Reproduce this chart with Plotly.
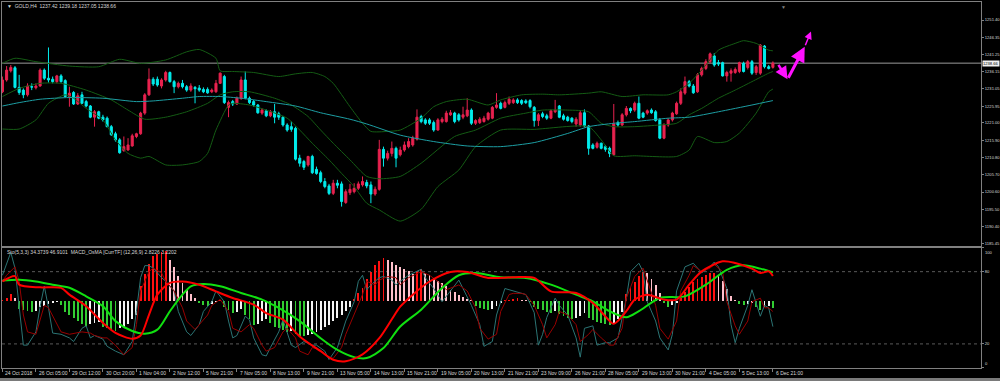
import plotly.graph_objects as go

# ---------------- data ----------------
time_labels = ["24 Oct 2018", "26 Oct 05:00", "29 Oct 12:00", "30 Oct 20:00", "1 Nov 04:00",
               "2 Nov 12:00", "5 Nov 21:00", "7 Nov 05:00", "8 Nov 13:00", "9 Nov 21:00",
               "13 Nov 05:00", "14 Nov 13:00", "15 Nov 21:00", "19 Nov 05:00", "20 Nov 13:00",
               "21 Nov 21:00", "23 Nov 09:00", "26 Nov 21:00", "28 Nov 05:00", "29 Nov 13:00",
               "30 Nov 21:00", "4 Dec 05:00", "5 Dec 13:00", "6 Dec 21:00"]
label_bar = [0, 8, 16, 24, 32, 40, 48, 56, 64, 72, 80, 88, 96, 104, 112, 120,
             128, 136, 144, 152, 160, 168, 176, 184]

open_ = [1230.2,1233.7,1236.4,1237.3,1231.5,1230.7,1229.3,1231.7,1231.4,1231.9,
         1236.6,1234.2,1233.9,1233.2,1234.9,1233.5,1228.8,1230.0,1226.6,1229.3,
         1227.3,1226.0,1222.7,1224.3,1222.7,1222.4,1219.9,1217.8,1216.0,1212.8,
         1213.0,1214.2,1217.0,1217.8,1223.9,1229.3,1233.9,1233.9,1231.9,1233.7,
         1235.9,1233.2,1231.7,1232.7,1231.7,1230.7,1231.5,1231.3,1230.9,1230.9,
         1230.2,1230.2,1232.7,1234.7,1225.6,1227.3,1226.6,1228.3,1233.7,1228.3,
         1227.3,1226.3,1223.9,1224.6,1223.1,1224.3,1223.7,1222.7,1220.4,1219.9,
         1219.4,1210.6,1209.6,1208.6,1211.1,1207.3,1206.3,1203.7,1202.4,1200.2,
         1203.2,1203.0,1197.5,1200.4,1200.7,1201.7,1202.7,1203.4,1202.7,1200.0,
         1201.4,1213.2,1210.6,1212.0,1213.5,1211.6,1213.0,1214.0,1214.5,1216.2,
         1222.9,1221.9,1221.9,1221.1,1218.9,1221.4,1221.4,1223.4,1223.9,1223.4,
         1222.7,1223.1,1224.8,1220.9,1221.1,1221.4,1222.1,1222.4,1225.6,1226.8,
         1225.6,1226.8,1227.0,1227.8,1227.6,1227.5,1227.6,1225.6,1221.7,1223.7,
         1223.1,1222.4,1224.3,1226.0,1223.1,1222.7,1222.4,1220.7,1220.4,1224.0,
         1220.1,1214.5,1213.8,1215.0,1214.0,1213.5,1211.6,1221.1,1220.4,1223.4,
         1225.3,1224.8,1226.8,1223.9,1223.9,1224.8,1224.3,1221.9,1216.5,1220.4,
         1221.9,1223.7,1226.8,1229.8,1233.2,1231.9,1230.2,1235.2,1237.1,1239.1,
         1240.8,1238.8,1238.8,1234.9,1235.7,1235.9,1236.2,1238.6,1237.4,1239.1,
         1235.9,1235.7,1243.7,1237.6,1237.42]
high_ = [1234.7,1237.8,1238.1,1237.8,1235.2,1231.2,1232.7,1232.7,1232.7,1237.1,
         1237.1,1243.3,1234.7,1235.2,1235.4,1233.9,1231.7,1230.4,1229.8,1230.2,
         1227.8,1226.3,1224.8,1224.6,1223.4,1222.9,1220.4,1218.4,1216.5,1217.0,
         1216.5,1217.8,1218.1,1224.3,1229.8,1237.1,1234.5,1234.7,1234.2,1236.4,
         1236.2,1233.7,1233.2,1233.7,1232.2,1232.7,1231.9,1232.2,1231.5,1231.5,
         1231.2,1233.7,1235.9,1235.2,1227.6,1227.8,1228.8,1234.7,1236.2,1228.8,
         1227.8,1226.6,1225.3,1225.0,1224.8,1226.6,1224.3,1223.1,1220.9,1221.4,
         1219.9,1211.6,1210.1,1211.3,1211.6,1208.1,1206.9,1204.7,1203.0,1204.2,
         1204.2,1203.7,1201.4,1203.0,1203.2,1203.7,1205.2,1204.2,1203.7,1202.2,
         1216.0,1214.0,1212.8,1215.5,1214.0,1214.0,1215.5,1216.5,1217.2,1225.0,
         1223.4,1222.4,1222.4,1221.7,1222.4,1222.7,1224.6,1224.8,1224.3,1223.9,
         1225.8,1228.3,1225.3,1222.1,1222.7,1223.1,1224.3,1226.0,1229.8,1227.3,
         1227.6,1228.8,1228.3,1228.3,1228.0,1228.0,1228.0,1226.0,1223.9,1224.3,
         1223.7,1225.0,1227.8,1226.3,1223.7,1223.1,1222.7,1222.7,1224.8,1225.0,
         1220.4,1215.0,1215.5,1215.2,1214.5,1214.0,1226.6,1221.7,1223.9,1226.0,
         1225.6,1227.3,1228.8,1224.3,1225.0,1225.3,1224.8,1222.4,1220.9,1222.4,
         1224.3,1227.3,1231.2,1234.7,1233.7,1232.5,1235.7,1237.6,1239.8,1241.8,
         1241.6,1239.6,1239.1,1236.4,1237.1,1237.4,1239.1,1239.1,1239.6,1239.6,
         1238.1,1244.3,1244.0,1238.1,1239.18]
low_ = [1229.8,1233.2,1235.9,1231.2,1229.3,1228.3,1228.8,1230.7,1230.9,1231.7,
        1233.7,1232.9,1232.7,1232.7,1232.9,1228.6,1225.8,1226.3,1226.3,1226.6,
        1225.6,1222.4,1219.9,1222.1,1221.4,1219.7,1217.2,1215.5,1211.9,1212.5,
        1212.8,1214.0,1216.5,1217.5,1223.4,1229.0,1231.9,1231.7,1231.2,1233.2,
        1232.9,1229.8,1231.2,1231.2,1230.2,1230.2,1226.8,1230.2,1229.8,1229.6,
        1229.8,1229.9,1232.5,1226.6,1222.7,1226.0,1226.3,1227.8,1228.0,1226.6,
        1225.8,1223.7,1223.4,1222.7,1222.7,1220.9,1221.9,1219.9,1218.4,1218.4,
        1209.9,1208.1,1207.1,1208.1,1205.9,1205.7,1203.2,1201.7,1199.7,1199.7,
        1201.7,1196.3,1197.1,1199.7,1200.2,1201.2,1202.2,1201.7,1197.3,1199.5,
        1201.0,1208.1,1209.9,1211.1,1207.9,1211.1,1212.5,1213.5,1214.0,1215.8,
        1220.9,1220.4,1220.4,1218.4,1218.7,1220.9,1221.1,1223.1,1220.9,1221.4,
        1222.1,1222.7,1220.4,1220.4,1220.7,1221.1,1221.7,1222.1,1225.2,1225.0,
        1225.3,1226.3,1226.6,1226.6,1226.3,1226.6,1225.3,1219.9,1220.1,1222.4,
        1221.9,1222.1,1223.9,1222.4,1221.7,1221.4,1220.9,1219.9,1219.9,1219.7,
        1211.6,1213.2,1213.4,1213.2,1212.5,1210.9,1211.3,1219.9,1220.1,1222.9,
        1223.9,1224.3,1222.1,1222.4,1223.4,1223.7,1221.4,1216.2,1216.2,1219.9,
        1221.4,1223.4,1226.3,1229.3,1231.5,1229.6,1229.9,1234.7,1236.6,1238.6,
        1237.6,1237.8,1234.7,1233.2,1233.2,1235.5,1235.7,1235.9,1236.8,1235.2,
        1235.2,1235.2,1237.1,1236.8,1237.05]
close_ = [1233.7,1236.6,1237.4,1231.5,1230.0,1229.3,1231.9,1231.6,1231.9,1236.6,
          1234.2,1233.7,1233.2,1234.9,1233.2,1228.8,1229.8,1226.6,1229.0,1226.8,
          1226.0,1222.7,1224.3,1222.4,1221.9,1219.9,1217.5,1216.0,1212.2,1214.0,
          1214.5,1217.2,1217.8,1223.9,1229.3,1233.9,1232.5,1232.2,1233.7,1235.9,
          1233.2,1231.7,1232.7,1231.7,1230.7,1231.9,1231.1,1230.7,1230.2,1229.9,
          1230.7,1232.7,1235.7,1227.0,1227.0,1226.6,1228.3,1233.7,1228.3,1227.0,
          1226.3,1224.0,1224.8,1223.1,1224.3,1222.7,1222.7,1220.4,1218.9,1219.1,
          1210.3,1209.1,1207.9,1211.1,1206.3,1206.1,1203.7,1202.2,1200.2,1203.2,
          1202.6,1197.8,1200.7,1201.4,1201.7,1203.0,1203.7,1202.4,1200.0,1201.4,
          1213.2,1210.6,1212.0,1213.5,1210.6,1213.0,1214.5,1215.5,1216.5,1222.7,
          1221.4,1220.9,1220.9,1218.9,1221.9,1222.1,1223.9,1224.0,1221.4,1221.9,
          1223.4,1224.8,1220.9,1221.7,1222.1,1222.4,1223.9,1225.6,1226.3,1225.3,
          1227.0,1228.0,1227.8,1227.0,1226.8,1227.0,1225.8,1221.7,1223.4,1222.9,
          1222.4,1224.6,1224.8,1222.7,1222.1,1221.7,1221.4,1222.1,1224.0,1220.1,
          1213.5,1213.5,1215.0,1213.5,1213.2,1212.0,1220.7,1220.4,1223.4,1225.3,
          1224.6,1226.8,1222.4,1222.7,1224.6,1224.0,1221.7,1216.5,1220.4,1221.9,
          1223.9,1226.8,1230.2,1233.2,1231.9,1229.9,1235.2,1237.1,1239.1,1241.4,
          1238.1,1238.4,1234.9,1235.9,1236.4,1236.8,1238.8,1236.2,1239.1,1235.7,
          1237.6,1244.0,1237.6,1237.1,1238.66]

# Bollinger bands (20,2)
bb_up_bar = [0,3,8,16,23,28,33,39,44,47,51,52,55,60,66,70,74,77,79,83,86,88,92,95,100,103,106,111,116,119,
             124,129,133,140,143,148,153,159,161,164,167,171,175,177,180,183,184]
bb_up = [1238.6,1240.1,1239.1,1237.8,1237.6,1239.8,1238.6,1239.6,1242.0,1242.7,1240.1,1236.4,1236.2,1235.9,
         1234.7,1235.5,1235.9,1234.7,1232.7,1225.8,1220.9,1218.5,1218.5,1218.9,1222.4,1225.8,1227.3,1228.0,
         1226.3,1227.8,1229.3,1229.5,1229.3,1229.8,1230.2,1228.8,1229.3,1229.3,1230.2,1232.7,1236.6,1242.5,
         1244.5,1245.3,1244.5,1242.5,1242.3]
bb_mid_bar = [0,4,9,14,20,26,30,34,39,44,49,52,55,59,65,69,73,76,79,83,87,90,95,100,108,113,119,125,129,135,
              140,143,146,151,157,161,164,167,171,175,179,183,184]
bb_mid = [1228.8,1231.2,1232.7,1232.7,1230.7,1227.8,1224.8,1222.1,1222.7,1224.3,1226.8,1229.3,1230.2,1230.2,
          1228.3,1226.3,1222.9,1218.9,1215.0,1210.1,1205.2,1204.5,1205.2,1209.1,1217.0,1218.9,1222.4,1223.9,
          1224.8,1224.8,1224.3,1220.9,1219.9,1219.9,1220.4,1220.9,1223.4,1225.3,1228.3,1230.7,1233.2,1235.7,
          1236.2]
bb_low_bar = [0,4,8,11,15,17,20,24,27,30,33,35,39,43,47,49,51,54,55,59,63,68,71,74,78,81,84,87,90,95,
              100,104,109,113,119,127,140,143,146,151,161,164,166,170,173,176,180,183,184]
bb_low = [1219.2,1219.2,1221.9,1226.8,1229.3,1228.3,1225.3,1221.9,1216.0,1212.0,1210.6,1211.1,1208.6,1208.6,
          1209.6,1212.0,1218.9,1226.3,1226.8,1226.3,1224.8,1222.4,1218.9,1215.0,1210.1,1206.1,1202.2,1197.3,
          1195.3,1192.0,1195.5,1202.2,1207.1,1214.0,1218.9,1219.1,1219.9,1216.0,1211.3,1211.3,1211.1,1213.0,
          1217.0,1215.2,1215.5,1218.0,1223.9,1230.2,1231.0]
# slow moving average (teal)
ma_bar = [0,4,9,16,24,32,36,43,47,52,57,63,70,76,83,87,95,103,111,119,127,135,140,146,151,159,164,171,179,184]
ma_val = [1226.0,1227.0,1228.0,1228.5,1228.3,1227.3,1227.5,1228.3,1228.8,1228.8,1228.3,1227.3,1226.0,1224.0,
          1222.1,1220.7,1217.4,1215.5,1214.2,1214.0,1215.2,1217.9,1219.9,1220.9,1221.4,1222.4,1222.7,1224.3,
          1226.3,1227.6]

# Stochastic (5,3,3)
sto_main_bar = [0,2,3,4,5,6,8,9,10,11,12,14,16,17,19,20,21,22,24,25,27,29,31,32,33,34,35,36,38,39,41,42,44,45,
                47,48,50,51,53,54,55,56,58,59,60,62,63,64,66,67,68,69,70,72,74,75,77,78,80,81,82,84,85,86,87,
                88,90,91,93,94,95,97,100,101,103,105,107,109,110,112,114,115,117,118,120,121,122,124,125,127,
                128,129,130,132,133,135,137,138,139,141,142,144,145,147,149,150,152,153,154,156,157,159,160,
                161,163,165,166,167,169,170,171,173,174,175,176,178,179,180,181,182,183,184]
sto_main = [77,96,83,52,19,19,30,51,68,50,29,28,25,22,33,35,25,27,24,18,14,11,22,47,75,85,85,83,75,72,64,47,30,
            27,36,47,55,64,55,39,25,27,43,40,25,11,10,17,30,40,30,19,17,22,19,19,14,7,17,28,39,55,72,77,65,69,
            75,76,73,69,72,77,82,75,66,55,64,73,66,52,36,18,22,44,66,65,64,62,61,46,19,28,42,58,52,44,25,9,33,
            35,19,21,21,25,58,80,87,80,55,39,25,15,28,64,84,87,83,79,84,88,84,66,36,21,33,52,65,54,43,52,50,
            34.37]
sto_sig_bar = [0,1,3,4,5,6,8,9,10,11,13,14,16,18,19,21,22,24,25,27,29,31,32,33,35,36,38,39,41,43,44,46,47,49,
               50,52,54,55,57,59,60,62,63,65,67,68,70,71,73,74,76,78,79,81,82,84,86,87,89,90,92,94,95,97,100,
               102,104,106,109,111,113,114,116,118,119,121,122,124,125,127,129,130,132,133,135,137,138,140,
               141,143,145,146,148,149,151,153,154,156,157,159,161,162,164,165,167,169,170,172,173,175,176,
               178,179,181,182,183,184]
sto_sig = [72,77,84,72,44,30,28,39,52,50,37,30,28,29,30,29,27,25,25,19,11,17,36,64,80,83,79,72,64,50,39,32,36,44,
           52,57,47,33,30,36,33,19,14,17,30,33,25,14,11,17,15,9,8,17,28,44,61,72,69,73,76,75,69,75,80,77,72,65,
           69,64,50,33,24,28,47,61,62,62,61,52,36,25,36,47,44,36,22,28,32,25,19,19,33,58,76,83,72,52,33,24,39,
           64,77,85,80,83,86,80,55,35,28,39,55,58,50,50,46.91]

# MACD_OsMA (12,26,9)
macd_bar = [0,3,4,9,14,16,20,24,27,31,33,35,37,40,43,47,51,55,60,63,67,71,76,79,82,86,90,93,95,98,102,107,111,
            116,122,127,131,137,141,144,146,149,151,154,158,161,164,167,172,175,179,181,183,184]
macd_val = [2.2,2.8,1.85,1.55,1.5,0.74,-0.55,-2.4,-3.5,-4.15,-3.8,-1.5,0.74,2.04,2.2,1.85,1.1,0.37,-0.37,-1.3,
            -2.04,-3.9,-5.55,-6.5,-6.67,-5.9,-4.1,-2.0,-0.6,0.74,2.2,3.26,3.26,2.6,2.67,2.6,1.1,0.93,-0.19,-1.67,
            -2.5,-1.1,0.19,0.74,0.19,0.19,1.85,3.33,4.44,4.26,3.63,3.15,3.33,2.82]
signal_bar = [0,4,8,12,16,20,24,27,31,34,37,40,43,45,48,52,57,62,66,71,76,80,84,87,91,95,100,105,109,113,119,
              125,131,137,141,145,149,152,157,163,168,173,177,181,184]
signal_val = [2.3,2.4,2.2,1.85,1.5,0.55,-0.55,-2.2,-3.3,-3.6,-3.15,-1.1,0.74,1.67,1.93,1.67,0.93,0.19,-0.74,
              -2.2,-4.1,-5.4,-6.2,-6.3,-5.2,-2.8,-0.93,1.48,2.9,3.15,2.67,2.6,1.85,0.74,0.0,-1.1,-1.78,-1.1,0.37,
              0.55,1.85,3.5,4.0,3.63,3.22]
osma = [0.1,0.4,0.8,0.4,
        -0.8,-1.0,-1.1,-1.2,-1.1,
        -0.6,-0.5,-0.3,-0.2,-0.1,
        -0.4,
        -1.2,-1.5,-1.8,-2.2,-2.5,-2.7,
        -2.5,-2.4,-2.3,
        -2.8,-3.0,-3.2,-3.3,
        -3.0,-2.8,-2.5,-2.0,-1.5,
        1.7,3.0,4.2,5.0,5.3,5.5,5.6,
        4.6,3.8,2.8,2.0,1.3,0.8,0.4,
        -0.2,-0.4,-0.5,-0.3,-0.1,0.1,
        -0.6,-1.0,-1.3,-1.2,-0.9,
        -1.5,-2.0,-2.6,
        -2.5,-2.2,-2.0,
        -2.4,-2.8,-3.0,-3.2,-3.4,
        -3.3,
        -3.6,-3.8,-3.9,
        -3.7,-3.6,
        -3.4,-3.2,-2.9,-2.6,-2.2,-1.8,-1.5,-1.1,-0.6,
        0.3,0.9,1.5,2.5,3.3,4.0,4.5,4.8,
        4.6,4.4,4.0,3.8,
        3.6,3.4,3.0,
        3.4,3.6,
        3.2,2.9,2.6,2.3,2.0,1.7,1.3,1.0,0.7,0.5,0.3,0.1,
        -0.5,-0.7,-0.9,-1.0,
        -0.8,-0.5,-0.2,
        0.1,0.2,0.3,0.35,
        0.2,0.1,
        -0.1,-0.6,-0.9,-1.0,-1.2,-1.3,
        -1.1,
        -1.4,-1.6,-1.8,-2.0,
        -1.9,-1.6,-1.3,
        -1.8,-2.1,-2.3,-2.4,-2.5,-2.6,
        -2.5,-2.0,-1.2,
        0.8,1.6,2.2,2.8,3.3,
        3.1,2.5,1.8,0.9,
        -0.2,-0.6,
        -0.4,-0.2,
        0.4,1.0,1.6,2.2,2.5,2.7,2.9,3.1,3.2,
        2.9,2.3,1.4,0.6,0.2,
        -0.3,-0.4,
        -0.3,-0.2,
        -0.6,-1.0,
        -0.6,-0.5,
        -0.7]

bid_price = 1238.66
price_ticks = [1251.40, 1246.35, 1241.25, 1236.15, 1231.05, 1225.95, 1221.00, 1215.90, 1210.80,
               1205.70, 1200.60, 1195.50, 1190.40, 1185.45]
sto_ticks = [100, 80, 20, 0]
sto_levels = [80, 20]
# hand-drawn forecast arrow (bar position, price)
fc_bar = [185.1, 187.5, 191.6, 193.1]
fc_price = [1238.6, 1233.9, 1243.5, 1248.0]
shift_marker_bar = 186.6

# ---------------- style ----------------
BULL = "#e8224f"
BEAR = "#00ecec"
BAND = "#145c14"
MA_C = "#1d9ea3"
GRAY = "#808080"
TXT = "#d8d8d8"
FONT = "Liberation Sans"
TICK_SIZE = 4.1

n = len(close_)
bars = list(range(n))

fig = go.Figure()

# main panel
for bx, by in [(bb_up_bar, bb_up), (bb_mid_bar, bb_mid), (bb_low_bar, bb_low)]:
    fig.add_trace(go.Scatter(x=bx, y=by, mode="lines", line=dict(color=BAND, width=1, shape="spline", smoothing=0.6),
                             xaxis="x", yaxis="y", hoverinfo="skip", showlegend=False))
fig.add_trace(go.Scatter(x=ma_bar, y=ma_val, mode="lines", line=dict(color=MA_C, width=1, shape="spline", smoothing=0.6),
                         xaxis="x", yaxis="y", hoverinfo="skip", showlegend=False))
fig.add_trace(go.Candlestick(x=bars, open=open_, high=high_, low=low_, close=close_,
                             increasing=dict(line=dict(color=BULL, width=1), fillcolor=BULL),
                             decreasing=dict(line=dict(color=BEAR, width=1), fillcolor=BEAR),
                             whiskerwidth=0, xaxis="x", yaxis="y", hoverinfo="skip", showlegend=False))

# lower panel: histogram on y2 (MACD units)
hist_colors = []
prev = 0.0
for v in osma:
    if v >= 0:
        hist_colors.append("#ff1010" if v >= prev else "#ffc0cb")
    else:
        hist_colors.append("#32cd32" if v <= prev else "#f4f4f4")
    prev = v
fig.add_trace(go.Bar(x=bars[:len(osma)], y=osma, marker=dict(color=hist_colors, line=dict(width=0)), width=0.45,
                     xaxis="x2", yaxis="y2", hoverinfo="skip", showlegend=False))
# stochastic on y3
fig.add_trace(go.Scatter(x=sto_main_bar, y=sto_main, mode="lines", line=dict(color="#2b7474", width=1),
                         xaxis="x2", yaxis="y3", hoverinfo="skip", showlegend=False))
fig.add_trace(go.Scatter(x=sto_sig_bar, y=sto_sig, mode="lines", line=dict(color="#980000", width=1),
                         xaxis="x2", yaxis="y3", hoverinfo="skip", showlegend=False))
# MACD lines on y4
fig.add_trace(go.Scatter(x=signal_bar, y=signal_val, mode="lines",
                         line=dict(color="#10e010", width=2, shape="spline", smoothing=0.8),
                         xaxis="x2", yaxis="y4", hoverinfo="skip", showlegend=False))
fig.add_trace(go.Scatter(x=macd_bar, y=macd_val, mode="lines",
                         line=dict(color="#ff0000", width=2, shape="spline", smoothing=0.8),
                         xaxis="x2", yaxis="y4", hoverinfo="skip", showlegend=False))

XR = [-0.1, 233.7]
MAIN_DOM = [0.3333, 1.0]
LOW_DOM = [0.0, 0.329]
MACD_RANGE = [-7.41, 5.97]
tickfont = dict(family=FONT, size=TICK_SIZE, color=TXT)

fig.update_layout(
    width=1000, height=381,
    margin=dict(l=2, r=19, t=2, b=13, autoexpand=False),
    paper_bgcolor="black", plot_bgcolor="black",
    showlegend=False, bargap=0,
    font=dict(family=FONT, size=5, color=TXT),
    xaxis=dict(domain=[0, 1], anchor="y", range=XR, showgrid=False, zeroline=False,
               showticklabels=False, ticks="", showline=True, mirror=True, linecolor=GRAY, linewidth=1,
               rangeslider=dict(visible=False), fixedrange=True),
    yaxis=dict(domain=MAIN_DOM, anchor="x", range=[1184.65, 1256.72], side="right",
               tickvals=price_ticks, ticktext=["%.2f" % p for p in price_ticks],
               ticks="outside", ticklen=2, tickcolor=GRAY, tickfont=tickfont, ticklabelstandoff=0,
               showgrid=False, zeroline=False, showline=True, mirror=True, linecolor=GRAY, linewidth=1),
    xaxis2=dict(domain=[0, 1], anchor="y2", matches="x", range=XR, showgrid=False, zeroline=False,
                showticklabels=False, ticks="outside", ticklen=3, tickcolor=GRAY, tickvals=label_bar,
                showline=True, mirror=True, linecolor=GRAY, linewidth=1),
    yaxis2=dict(domain=LOW_DOM, anchor="x2", range=MACD_RANGE, visible=False, showgrid=False, zeroline=False),
    yaxis3=dict(domain=LOW_DOM, anchor="x2", overlaying="y2", range=[0, 100], side="right",
                tickvals=sto_ticks, ticktext=["" if t in (0, 100) else str(t) for t in sto_ticks],
                ticks="outside", ticklen=2, tickcolor=GRAY, tickfont=tickfont, ticklabelstandoff=0,
                showgrid=False, zeroline=False, showline=True, mirror=True, linecolor=GRAY, linewidth=1),
    yaxis4=dict(domain=LOW_DOM, anchor="x2", overlaying="y2", range=MACD_RANGE, visible=False,
                showgrid=False, zeroline=False),
)

shapes = []
# bid line
shapes.append(dict(type="line", xref="paper", x0=0, x1=1, yref="y", y0=bid_price, y1=bid_price,
                   line=dict(color="#9a9a9a", width=1), layer="below"))
for lv in sto_levels:
    shapes.append(dict(type="line", xref="paper", x0=0, x1=1, yref="y3", y0=lv, y1=lv,
                       line=dict(color="#5a5a5a", width=1, dash="dot"), layer="below"))
# bottom gray strip of the window
shapes.append(dict(type="rect", xref="paper", x0=-0.01, x1=1.03, yref="paper", y0=-0.0356, y1=-0.0275,
                   fillcolor="#7a7a7a", line=dict(width=0)))
fig.update_layout(shapes=shapes)

ann = []
ann.append(dict(xref="paper", yref="paper", x=0.003, y=0.989, xanchor="left", yanchor="middle",
                text="\u25BC  GOLD,H4  1237.42 1239.18 1237.05 1238.66", showarrow=False,
                font=dict(family=FONT, size=5, color=TXT)))
ann.append(dict(xref="paper", yref="paper", x=0.003, y=0.317, xanchor="left", yanchor="middle",
                text="Sto(5,3,3) 34.3739 46.9101  MACD_OsMA [CurrTF] (12,26,9) 2.8226 3.2202", showarrow=False,
                font=dict(family=FONT, size=5, color=TXT)))
ann.append(dict(xref="paper", yref="y", x=1.0, y=bid_price, xanchor="left", yanchor="middle", xshift=1,
                text="%.2f" % bid_price, showarrow=False, bgcolor="#f0f0f0", borderpad=0,
                font=dict(family=FONT, size=TICK_SIZE, color="black")))
# stochastic scale ends (MT4 draws them inside the window)
ann.append(dict(xref="paper", yref="y3", x=1.0, y=100, xanchor="left", yanchor="top", xshift=2,
                text="100", showarrow=False, font=tickfont))
ann.append(dict(xref="paper", yref="y3", x=1.0, y=0, xanchor="left", yanchor="bottom", xshift=2,
                text="0", showarrow=False, font=tickfont))
ann.append(dict(xref="x", yref="paper", x=shift_marker_bar, y=1.0, xanchor="center", yanchor="top",
                text="\u25BC", showarrow=False, font=dict(family=FONT, size=5, color=GRAY)))
for b, t in zip(label_bar, time_labels):
    ann.append(dict(xref="x2", yref="paper", x=b, y=-0.014, xanchor="left", yanchor="middle", xshift=1,
                    text=t, showarrow=False, font=dict(family=FONT, size=5, color=TXT)))
# forecast arrows
widths = [2.5, 3, 1.5]
for k in range(len(fc_bar) - 1):
    ann.append(dict(xref="x", yref="y", axref="x", ayref="y", x=fc_bar[k + 1], y=fc_price[k + 1],
                    ax=fc_bar[k], ay=fc_price[k], text="", showarrow=True, arrowhead=2, arrowsize=1,
                    arrowwidth=widths[k], arrowcolor="#ff10ff"))
fig.update_layout(annotations=ann)

fig.write_html("out.html", config={"displayModeBar": False, "staticPlot": True},
               post_script="document.body.style.margin='0';document.body.style.padding='0';"
                           "document.body.style.overflow='hidden';document.body.style.background='black';")
